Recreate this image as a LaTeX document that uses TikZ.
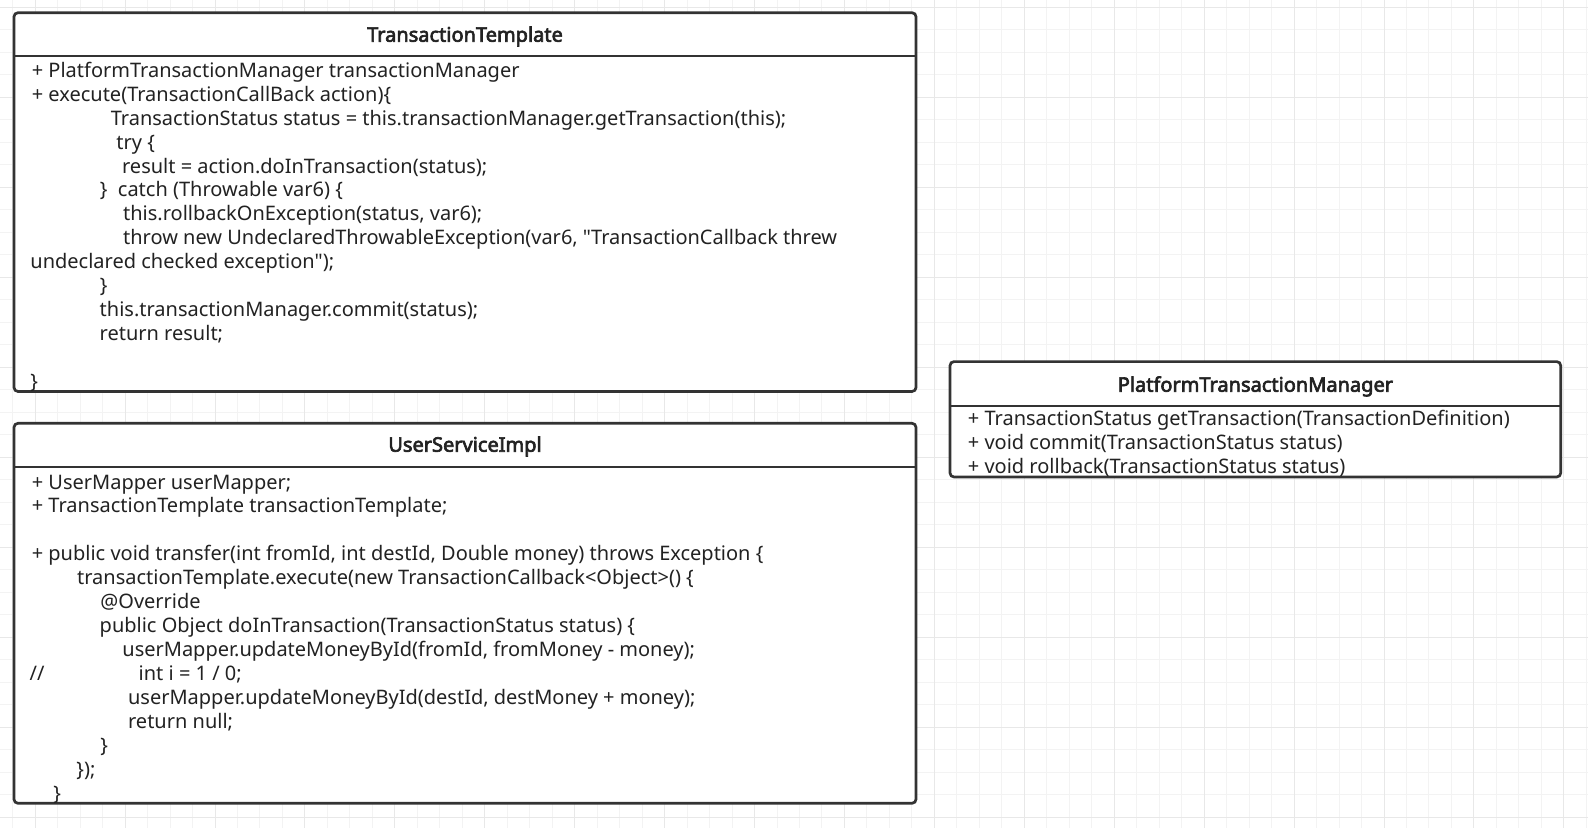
\documentclass[tikz,border=0pt]{standalone}
\usepackage{fontspec}
\setmainfont{Noto Sans}[AutoFakeBold=3.2]
\usepackage{tikz}

\definecolor{boxline}{RGB}{51,51,51}
\definecolor{codetext}{RGB}{34,34,34}
\definecolor{gridminor}{RGB}{243,243,243}
\definecolor{gridmajor}{RGB}{232,232,232}

\tikzset{
  umlbox/.style={draw=boxline, fill=white, line width=1.35pt, rounded corners=2pt},
  umlsep/.style={draw=boxline, line width=1.35pt},
  umltitle/.style={anchor=base, inner sep=0pt, text=codetext, font=\fontsize{10}{12}\selectfont\bfseries},
  code/.style={anchor=base west, inner sep=0pt, text=codetext, font=\fontsize{10}{12}\selectfont},
  minorline/.style={draw=gridminor, line width=0.5pt},
  majorline/.style={draw=gridmajor, line width=0.5pt}
}

\begin{document}
\begin{tikzpicture}[x=0.5pt, y=-0.5pt]
	\useasboundingbox (0,0) rectangle (1588,828);
	\fill[white] (0,0) rectangle (1588,828);

	% Background grid
	\foreach \k in {0,...,70} \draw[minorline] ({12.7+22.48*\k},0) -- ++(0,828);
	\foreach \k in {0,...,36} \draw[minorline] (0,{7.3+22.5*\k}) -- ++(1588,0);
	\foreach \k in {0,...,17} \draw[majorline] ({35.2+89.92*\k},0) -- ++(0,828);
	\foreach \k in {0,...,9} \draw[majorline] (0,{7.3+90*\k}) -- ++(1588,0);

	% Line height of the code text
	\def\lh{23.93}

	% TransactionTemplate
	\draw[umlbox] (14,12.7) rectangle (916,391.5);
	\draw[umlsep] (14,56) -- (916,56);
	\node[umltitle] (ttTitle) at (465,41.7) {TransactionTemplate};
	\def\ttTop{77.3}
	\node[code] (tt1) at (31.4,\ttTop) {+ PlatformTransactionManager transactionManager};
	\node[code] (tt2) at (31.4,\ttTop+\lh) {+ execute(TransactionCallBack action)\{};
	\node[code] (tt3) at (110.4,\ttTop+2*\lh) {TransactionStatus status = this.transactionManager.getTransaction(this);};
	\node[code] (tt4) at (116,\ttTop+3*\lh) {try \{};
	\node[code] (tt5) at (121.7,\ttTop+4*\lh) {result = action.doInTransaction(status);};
	\node[code] (tt6) at (99.5,\ttTop+5*\lh) {\}~~catch (Throwable var6) \{};
	\node[code] (tt7) at (122.7,\ttTop+6*\lh) {this.rollbackOnException(status, var6);};
	\node[code] (tt8) at (122.7,\ttTop+7*\lh) {throw new UndeclaredThrowableException(var6, \textquotedbl TransactionCallback threw};
	\node[code] (tt9) at (30,\ttTop+8*\lh) {undeclared checked exception\textquotedbl);};
	\node[code] (tt10) at (99.5,\ttTop+9*\lh) {\}};
	\node[code] (tt11) at (99.3,\ttTop+10*\lh) {this.transactionManager.commit(status);};
	\node[code] (tt12) at (99.3,\ttTop+11*\lh) {return result;};
	\node[code] (tt14) at (30,\ttTop+13*\lh) {\}};

	% UserServiceImpl
	\draw[umlbox] (14,423.3) rectangle (916,803.3);
	\draw[umlsep] (14,467) -- (916,467);
	\node[umltitle] (usTitle) at (465,451.7) {UserServiceImpl};
	\def\usTop{489}
	\node[code] (us1) at (31.4,\usTop) {+ UserMapper userMapper;};
	\node[code] (us2) at (31.4,\usTop+\lh) {+ TransactionTemplate transactionTemplate;};
	\node[code] (us4) at (31.4,\usTop+3*\lh) {+ public void transfer(int fromId, int destId, Double money) throws Exception \{};
	\node[code] (us5) at (76.7,\usTop+4*\lh) {transactionTemplate.execute(new TransactionCallback<Object>() \{};
	\node[code] (us6) at (100,\usTop+5*\lh) {@Override};
	\node[code] (us7) at (99.3,\usTop+6*\lh) {public Object doInTransaction(TransactionStatus status) \{};
	\node[code] (us8) at (122,\usTop+7*\lh) {userMapper.updateMoneyById(fromId, fromMoney - money);};
	\node[code] (us9a) at (29.3,\usTop+8*\lh) {//};
	\node[code] (us9b) at (138.3,\usTop+8*\lh) {int i = 1 / 0;};
	\node[code] (us10) at (127.7,\usTop+9*\lh) {userMapper.updateMoneyById(destId, destMoney + money);};
	\node[code] (us11) at (127.7,\usTop+10*\lh) {return null;};
	\node[code] (us12) at (100,\usTop+11*\lh) {\}};
	\node[code] (us13) at (76,\usTop+12*\lh) {\});};
	\node[code] (us14) at (53,\usTop+13*\lh) {\}};

	% PlatformTransactionManager
	\draw[umlbox] (950,361.6) rectangle (1560.7,477);
	\draw[umlsep] (950,406) -- (1560.7,406);
	\node[umltitle] (pmTitle) at (1255.4,391.7) {PlatformTransactionManager};
	\def\pmTop{425.8}
	\node[code] (pm1) at (967.5,\pmTop) {+ TransactionStatus getTransaction(TransactionDefinition)};
	\node[code] (pm2) at (967.5,\pmTop+\lh) {+ void commit(TransactionStatus status)};
	\node[code] (pm3) at (967.5,\pmTop+2*\lh) {+ void rollback(TransactionStatus status)};
\end{tikzpicture}
\end{document}
